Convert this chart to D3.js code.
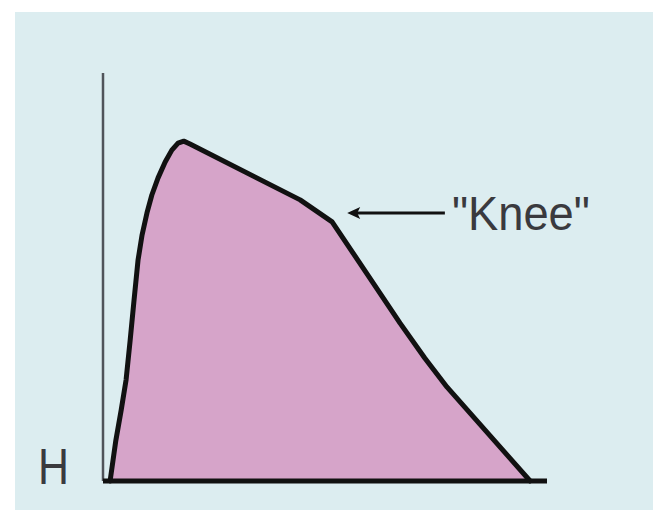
<!DOCTYPE html>
<html>
<head>
<meta charset="utf-8">
<script src="https://cdn.jsdelivr.net/npm/d3@7"></script>
<style>
  html, body { margin: 0; padding: 0; background: #fff; }
</style>
</head>
<body>
<div id="chart"></div>
<script>
const W = 656, H = 510;

// curve of the profile, in chart units (x: 0..100, y: 0..100)
const curveX = [1.6, 2.9, 4.1, 5.2, 6.1, 7.0, 7.9, 8.8, 9.9, 11.0, 12.4, 14.0, 15.5, 16.9, 18.2, 19.6,
  44.4, 51.6, 59.2, 66.9, 72.5, 77.5, 96.2];
const curveY = [0, 10.0, 17.4, 24.8, 34.3, 44.4, 54.2, 60.3, 65.7, 70.1, 74.3, 78.2, 81.1, 82.8, 83.3, 82.6,
  68.9, 63.5, 51.2, 38.7, 30.1, 23.0, 0];

const axisLabel = "H";
const kneeLabel = "\"Knee\"";
const kneeArrowX = [77.0, 55.0]; // tail, tip
const kneeArrowY = 65.7;

const svg = d3.select("#chart").append("svg")
  .attr("width", W).attr("height", H);

// panel
svg.append("rect")
  .attr("x", 15).attr("y", 12)
  .attr("width", 638).attr("height", H - 12)
  .attr("fill", "#dcedf0");

const x = d3.scaleLinear().domain([0, 100]).range([103, 547]);
const y = d3.scaleLinear().domain([0, 100]).range([481, 73]);

const pts = curveX.map((v, i) => [v, curveY[i]]);

// filled profile
const area = d3.area()
  .x(d => x(d[0]))
  .y0(y(0))
  .y1(d => y(d[1]));

svg.append("path")
  .datum(pts)
  .attr("d", area)
  .attr("fill", "#d6a4c9");

const line = d3.line().x(d => x(d[0])).y(d => y(d[1]));
svg.append("path")
  .datum(pts)
  .attr("d", line)
  .attr("fill", "none")
  .attr("stroke", "#111")
  .attr("stroke-width", 5)
  .attr("stroke-linejoin", "round")
  .attr("stroke-linecap", "round");

// vertical axis
svg.append("line")
  .attr("x1", x(0)).attr("x2", x(0))
  .attr("y1", y(0)).attr("y2", y(100))
  .attr("stroke", "#50545a")
  .attr("stroke-width", 2.5);

// base axis
svg.append("line")
  .attr("x1", x(0)).attr("x2", x(100))
  .attr("y1", y(0)).attr("y2", y(0))
  .attr("stroke", "#111")
  .attr("stroke-width", 5);

svg.append("text")
  .attr("x", x(0) - 65).attr("y", y(0) + 3)
  .attr("font-family", "Liberation Sans, Arial, sans-serif")
  .attr("font-size", 50)
  .attr("fill", "#3a3a3e")
  .attr("textLength", 31)
  .attr("lengthAdjust", "spacingAndGlyphs")
  .text(axisLabel);

// knee annotation
const tipX = x(kneeArrowX[1]);
const ay = y(kneeArrowY);
svg.append("line")
  .attr("x1", x(kneeArrowX[0])).attr("x2", tipX + 8)
  .attr("y1", ay).attr("y2", ay)
  .attr("stroke", "#111")
  .attr("stroke-width", 3);

svg.append("path")
  .attr("d", `M${tipX},${ay} L${tipX + 13},${ay - 6} L${tipX + 10},${ay} L${tipX + 13},${ay + 6} Z`)
  .attr("fill", "#111");

svg.append("text")
  .attr("x", x(kneeArrowX[0]) + 7).attr("y", y(kneeArrowY) + 17)
  .attr("font-family", "Liberation Sans, Arial, sans-serif")
  .attr("font-size", 48)
  .attr("fill", "#3a3a3e")
  .attr("textLength", 138)
  .attr("lengthAdjust", "spacingAndGlyphs")
  .text(kneeLabel);
</script>
</body>
</html>
